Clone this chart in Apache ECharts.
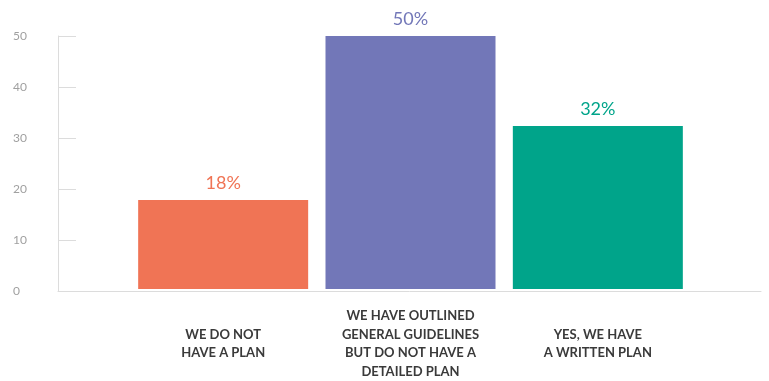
<!DOCTYPE html>
<html><head><meta charset="utf-8">
<script src="https://cdn.jsdelivr.net/npm/echarts@6/dist/echarts.min.js"></script>
<style>html,body{margin:0;padding:0;background:#fff}#c{width:769px;height:381px}</style>
</head><body><div id="c"></div>
<script>
var categories = ['WE DO NOT\nHAVE A PLAN', 'WE HAVE OUTLINED\nGENERAL GUIDELINES\nBUT DO NOT HAVE A\nDETAILED PLAN', 'YES, WE HAVE\nA WRITTEN PLAN'];
var values = [17.6, 50, 32.2];
var valueLabels = ['18%', '50%', '32%'];
var colors = ['#F07455', '#7277B8', '#00A48A'];
var yTicks = [0, 10, 20, 30, 40, 50];

var chart = echarts.init(document.getElementById('c'));
chart.setOption({
  animation: false,
  grid: [
    {left: 58, right: 8, top: 36, bottom: 90},
    {left: 129.5, right: 77.5, top: 36, bottom: 90}
  ],
  xAxis: [
    {gridIndex: 0, type: 'category', data: [''], axisLine: {lineStyle: {color: '#dcdcdc', width: 1}}, axisTick: {show: false}, axisLabel: {show: false}},
    {gridIndex: 1, type: 'category', data: categories, axisLine: {show: false}, axisTick: {show: false},
     axisLabel: {interval: 0, color: '#3a3a3a', fontFamily: 'Lato', fontWeight: 'bold', fontSize: 13, lineHeight: 18.5, verticalAlign: 'middle', margin: 55}}
  ],
  yAxis: [
    {gridIndex: 0, type: 'value', min: yTicks[0], max: yTicks[yTicks.length - 1], interval: 10,
     axisLine: {show: true, lineStyle: {color: '#dcdcdc'}},
     axisTick: {show: true, inside: true, length: 18, lineStyle: {color: '#dcdcdc'}},
     splitLine: {show: false},
     axisLabel: {color: '#a0a0a0', fontFamily: 'Lato', fontSize: 12, align: 'left', margin: 45}},
    {gridIndex: 1, type: 'value', min: yTicks[0], max: yTicks[yTicks.length - 1], show: false}
  ],
  series: [{
    type: 'bar', xAxisIndex: 1, yAxisIndex: 1, barWidth: 170,
    data: values.map(function (v, i) {
      return {value: v, itemStyle: {color: colors[i]}, label: {color: colors[i]}};
    }),
    label: {show: true, position: 'top', distance: 8, fontFamily: 'Lato', fontSize: 18,
      formatter: function (p) { return valueLabels[p.dataIndex]; }}
  }]
});
</script></body></html>
